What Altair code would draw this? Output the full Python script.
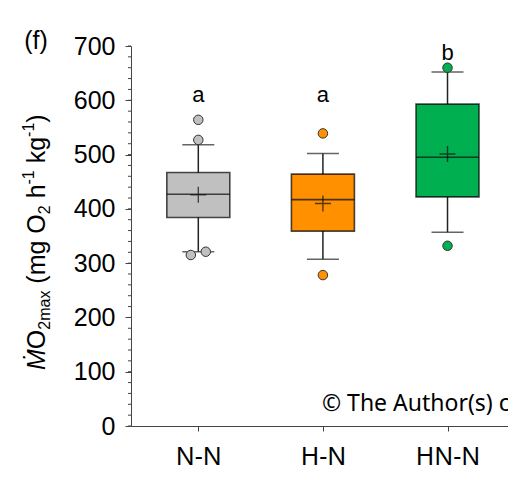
import altair as alt
import pandas as pd

# ---- data ----
groups = ["N-N", "H-N", "HN-N"]
q1 = [384, 359, 422]
q3 = [467, 464, 593]
medians = [427, 417, 495]
means = [426, 410, 501]
whisker_low = [321, 307, 357]
whisker_high = [518, 502, 652]
outlier_group = ["N-N", "N-N", "N-N", "N-N", "H-N", "H-N", "HN-N", "HN-N"]
outlier_value = [564, 527, 315, 321, 539, 278, 660, 332]
outlier_shift = [0, 0, -0.06, 0.06, 0, 0, 0, 0]
letters = ["a", "a", "b"]
letter_value = [610, 610, 687]
fills = ["#c0c0c0", "#ff9100", "#00b050"]
y_ticks = [0, 100, 200, 300, 400, 500, 600, 700]
minor_ticks = list(range(0, 701, 20))

# y-axis title pieces: (text, kind, space before) kind: n=normal, b=subscript, p=superscript
title_pieces = [("O", "n", 0), ("2max", "b", 0), ("(mg O", "n", 1), ("2", "b", 0),
                ("h", "n", 1), ("-1", "p", 0), ("kg", "n", 1), ("-1", "p", 0), (")", "n", 0)]

idx = {g: i + 1 for i, g in enumerate(groups)}

box = pd.DataFrame({
    "group": groups,
    "x": [idx[g] for g in groups],
    "q1": q1, "q3": q3, "median": medians, "mean": means,
    "lo": whisker_low, "hi": whisker_high,
    "letter": letters, "letter_y": letter_value,
})
outl = pd.DataFrame({
    "group": outlier_group,
    "x": [idx[g] + s for g, s in zip(outlier_group, outlier_shift)],
    "v": outlier_value,
})
minor = pd.DataFrame({"v": minor_ticks})

# ---- layout of the rich y title (Arial / Liberation Sans advance widths) ----
adv = {" ": 278, "(": 333, ")": 333, "m": 833, "g": 556, "O": 778, "h": 556,
       "k": 500, "a": 556, "x": 500, "2": 556, "1": 556, "-": 333, "M": 833}
S_MAIN, S_SMALL = 25, 16
BASE_X = 45 - 131          # plot coords
start_y = 370 - 46
rows = []
cur = start_y - adv["M"] * S_MAIN / 1000
for txt, kind, sp in title_pieces:
    fs = S_MAIN if kind == "n" else S_SMALL
    cur -= sp * adv[" "] * S_MAIN / 1000
    px = BASE_X + (5 if kind == "b" else (-11 if kind == "p" else 0))
    rows.append({"t": txt, "px": px, "py": cur, "fs": fs})
    cur -= sum(adv[c] for c in txt) * fs / 1000
title_df = pd.DataFrame(rows)

W, H = 377, 380
xdom = [0.5, 0.5 + W / 128]
label_expr = " : ".join(
    [f"datum.value == {i + 1} ? '{g}'" for i, g in enumerate(groups[:-1])]
) + f" : '{groups[-1]}'"

xs = alt.Scale(domain=xdom, nice=False, zero=False)
ys = alt.Scale(domain=[0, 700], nice=False)
col = alt.Color("group:N", scale=alt.Scale(domain=groups, range=fills), legend=None)

X = alt.X("x:Q", scale=xs, axis=alt.Axis(
    values=[1, 2, 3], labelExpr=label_expr, title=None, grid=False,
    tickSize=5, labelFont="Noto Sans", labelFontSize=25, labelColor="#000",
    labelPadding=13, domainColor="#444", tickColor="#444", labelBaseline="top"))
Y = alt.Y("lo:Q", scale=ys, axis=alt.Axis(
    values=y_ticks, grid=False, tickSize=6, labelFont="Liberation Sans",
    labelFontSize=25, labelColor="#000", labelPadding=10,
    domainColor="#444", tickColor="#444", title=None))

base = alt.Chart(box)

whisk = base.mark_rule(color="#222", strokeWidth=1.5).encode(
    x=X, y=Y, y2="hi:Q")
caps_lo = base.mark_tick(orient="horizontal", size=32, thickness=1.5, color="#222").encode(
    x=alt.X("x:Q", scale=xs), y=alt.Y("lo:Q", scale=ys))
caps_hi = base.mark_tick(orient="horizontal", size=32, thickness=1.5, color="#222").encode(
    x=alt.X("x:Q", scale=xs), y=alt.Y("hi:Q", scale=ys))
boxes = base.mark_bar(size=63, stroke="#000", strokeOpacity=0.7, strokeWidth=1.6).encode(
    x=alt.X("x:Q", scale=xs), y=alt.Y("q1:Q", scale=ys), y2="q3:Q", color=col)
med = base.mark_tick(orient="horizontal", size=63, thickness=1.6, color="#111", opacity=0.75).encode(
    x=alt.X("x:Q", scale=xs), y=alt.Y("median:Q", scale=ys))
mean_pt = base.mark_point(shape="M-1,0L1,0M0,-1L0,1", size=256, filled=False,
                          stroke="#111", strokeWidth=1.4).encode(
    x=alt.X("x:Q", scale=xs), y=alt.Y("mean:Q", scale=ys))
out_pts = alt.Chart(outl).mark_point(shape="circle", size=90, filled=True, opacity=1,
                                     stroke="#333", strokeWidth=1).encode(
    x=alt.X("x:Q", scale=xs), y=alt.Y("v:Q", scale=ys), fill=col)
lett = base.mark_text(font="Liberation Sans", fontSize=22, color="#000",
                      baseline="middle", align="center").encode(
    x=alt.X("x:Q", scale=xs), y=alt.Y("letter_y:Q", scale=ys), text="letter:N")
minors = alt.Chart(minor).mark_rule(color="#444", strokeWidth=1).encode(
    x=alt.value(0), x2=alt.value(-3), y=alt.Y("v:Q", scale=ys))
panel = alt.Chart(pd.DataFrame({"t": ["(f)"]})).mark_text(
    font="Liberation Sans", fontSize=25, color="#000", align="center", baseline="middle"
).encode(x=alt.value(-95), y=alt.value(-5), text="t:N")
mark_wm = alt.Chart(pd.DataFrame({"t": ["© The Author(s) c"]})).mark_text(
    font="Noto Sans", fontSize=23, color="#000", align="left", baseline="middle"
).encode(x=alt.value(191), y=alt.value(358), text="t:N")

title_m = alt.Chart(pd.DataFrame({"t": ["Ṁ"]})).mark_text(
    font="Liberation Sans", fontSize=S_MAIN, fontStyle="italic", color="#000",
    align="left", baseline="alphabetic", angle=270
).encode(x=alt.value(BASE_X), y=alt.value(start_y), text="t:N")
title_rest = alt.Chart(title_df).mark_text(
    font="Liberation Sans", color="#000", align="left", baseline="alphabetic", angle=270
).encode(x=alt.X("px:Q", scale=None), y=alt.Y("py:Q", scale=None),
         size=alt.Size("fs:Q", scale=None, legend=None), text="t:N")

chart = alt.layer(whisk, caps_lo, caps_hi, boxes, med, mean_pt, out_pts, lett,
                  minors, panel, mark_wm, title_m, title_rest).properties(
    width=W, height=H,
    autosize=alt.AutoSizeParams(type="none"),
    padding={"left": 131, "top": 46, "right": 0, "bottom": 51},
).configure_view(stroke=None)

chart.save("out.html", embed_options={"renderer": "svg", "actions": False})
